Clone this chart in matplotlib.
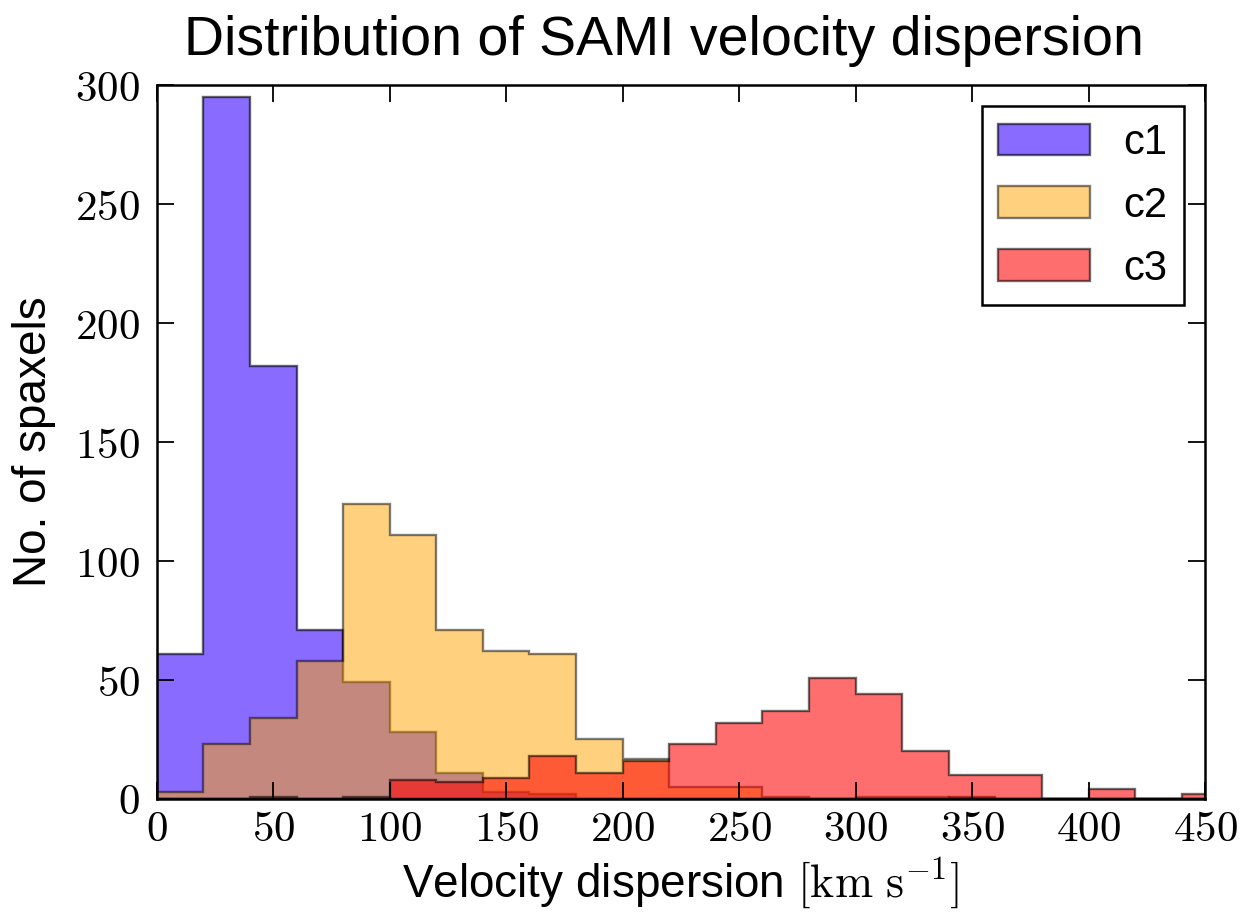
import matplotlib
matplotlib.use('Agg')
import matplotlib.pyplot as plt
import numpy as np
from matplotlib.ticker import FuncFormatter, MultipleLocator

# histogram data (20 km/s bins, 0 - 460)
bin_edges = np.arange(0, 461, 20)
c1_counts = [61, 295, 182, 71, 49, 28, 11, 3, 2, 0, 0, 0,
             0, 0, 0, 0, 0, 1, 0, 0, 0, 0, 0]
c2_counts = [3, 23, 34, 58, 124, 111, 71, 62, 61, 25, 17, 5,
             5, 1, 0, 1, 1, 0, 0, 0, 0, 0, 0]
c3_counts = [0, 0, 1, 0, 1, 8, 7, 9, 18, 11, 16, 23,
             32, 37, 51, 44, 20, 10, 10, 0, 4, 0, 2]
labels = ['c1', 'c2', 'c3']

plt.rcParams['mathtext.fontset'] = 'cm'
plt.rcParams['font.family'] = ['Liberation Sans', 'DejaVu Sans']

fig = plt.figure(figsize=(12.44, 9.21), dpi=100)
ax = fig.add_axes([0.126, 0.1325, 0.8427, 0.775])

centers = (bin_edges[:-1] + bin_edges[1:]) / 2
series = [(c1_counts, (0.23, 0.03, 1.0), 0.6),
          (c2_counts, 'orange', 0.5),
          (c3_counts, 'red', 0.57)]
for (counts, col, a), lab in zip(series, labels):
    ax.hist(centers, bins=bin_edges, weights=counts, histtype='stepfilled',
            facecolor=col, edgecolor='k', alpha=a, lw=1.7, label=lab)

ax.set_xlim(0, 450)
ax.set_ylim(0, 300)
ax.xaxis.set_major_locator(MultipleLocator(50))
ax.yaxis.set_major_locator(MultipleLocator(50))
fmt = FuncFormatter(lambda v, p: '$%d$' % v)
ax.xaxis.set_major_formatter(fmt)
ax.yaxis.set_major_formatter(fmt)
ax.tick_params(direction='in', top=True, right=True, length=12, width=1.3,
               labelsize=31)
ax.tick_params(axis='y', pad=12)
ax.tick_params(axis='x', pad=8)
for s in ax.spines.values():
    s.set_linewidth(1.8)

ax.set_title('Distribution of SAMI velocity dispersion', fontsize=40, pad=22, x=0.484)
ax.set_xlabel(r'Velocity dispersion $[\mathrm{km\ s^{-1}}]$', fontsize=33)
ax.set_ylabel('No. of spaxels', fontsize=33, labelpad=14)

leg = ax.legend(loc='upper right', fontsize=30, fancybox=False, framealpha=1,
                edgecolor='k', handlelength=2.2, handleheight=0.78,
                labelspacing=0.55, borderaxespad=0.5)
leg.get_frame().set_linewidth(1.8)

fig.savefig('out.png', dpi=100)
